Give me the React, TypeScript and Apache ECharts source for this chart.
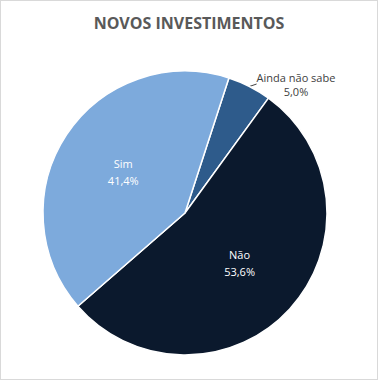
import React, { useEffect, useRef } from "react";
import * as echarts from "echarts";

const categories = ["Ainda não sabe", "Não", "Sim"];
const values = [5.0, 53.6, 41.4];
const colors = ["#2E5B8B", "#0B192D", "#7DAADC"];
const titleText = "NOVOS INVESTIMENTOS";

export default function App() {
  const ref = useRef<HTMLDivElement>(null);
  useEffect(() => {
    if (!ref.current) return;
    const chart = echarts.init(ref.current, null, { renderer: "svg" });
    const data = categories.map((name, i) => {
      const item: any = {
        name,
        value: values[i],
        itemStyle: { color: colors[i] },
      };
      if (i === 0) {
        item.label = {
          position: "outside",
          color: "#404040",
          fontSize: 11,
          lineHeight: 14,
        };
        item.labelLine = {
          show: true,
          length: 12,
          length2: 0,
          lineStyle: { color: "#404040", width: 1 },
        };
      }
      return item;
    });
    chart.setOption({
      animation: false,
      backgroundColor: "#ffffff",
      title: {
        text: titleText,
        left: "center",
        top: 10,
        textStyle: {
          fontFamily: "Open Sans",
          fontWeight: "bold",
          fontSize: 16,
          color: "#595959",
        },
      },
      series: [
        {
          type: "pie",
          center: [185, 213],
          radius: 142,
          startAngle: 72,
          clockwise: true,
          avoidLabelOverlap: false,
          itemStyle: { borderColor: "#ffffff", borderWidth: 1.5 },
          label: {
            show: true,
            position: "inside",
            fontFamily: "Open Sans",
            fontSize: 11,
            lineHeight: 17,
            color: "#ffffff",
            formatter: (p: any) =>
              `${p.name}\n${p.value.toFixed(1).replace(".", ",")}%`,
          },
          labelLine: { show: false },
          labelLayout: (p: any) =>
            p.dataIndex === 0
              ? { x: 296, y: 84, align: "center", verticalAlign: "middle" }
              : {},
          data,
        },
      ],
    });
    return () => chart.dispose();
  }, []);
  return (
    <div style={{ position: "fixed", left: 0, top: 0, width: 378, height: 380 }}>
      <div ref={ref} style={{ width: 378, height: 380 }} />
      <div
        style={{
          position: "absolute",
          left: 0,
          top: 0,
          width: 378,
          height: 380,
          boxSizing: "border-box",
          border: "1px solid #D9D9D9",
          pointerEvents: "none",
        }}
      />
    </div>
  );
}
